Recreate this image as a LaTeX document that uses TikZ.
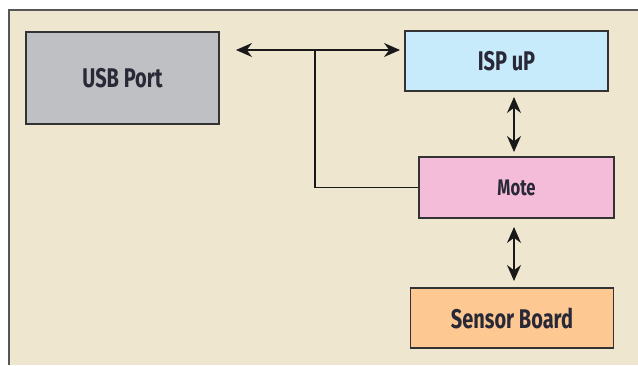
\documentclass[tikz,border=0pt]{standalone}
\usepackage{fontspec}
\setmainfont{Fira Sans}[FakeStretch=0.74]
\usetikzlibrary{arrows.meta}
\definecolor{bgbeige}{RGB}{239,230,208}
\definecolor{framegray}{RGB}{85,85,90}
\definecolor{usbgray}{RGB}{190,192,196}
\definecolor{ispblue}{RGB}{200,235,251}
\definecolor{motepink}{RGB}{245,188,218}
\definecolor{sensororange}{RGB}{253,200,145}
\definecolor{txt}{RGB}{40,40,55}
\tikzset{
  blk/.style={draw=black!80, line width=1.8pt, inner sep=0pt, text=txt, font=\bfseries\fontsize{27}{30}\selectfont},
  arr/.style={line width=1.5pt, black!90, {Stealth[length=16pt,width=14pt]}-{Stealth[length=16pt,width=14pt]}},
  wire/.style={line width=1.5pt, black!90}
}
\begin{document}
\begin{tikzpicture}[x=1pt,y=-1pt]
\useasboundingbox (0,0) rectangle (638,365);
\fill[white] (0,0) rectangle (638,365);
\fill[bgbeige] (9,10) rectangle (638,365);
\draw[framegray, line width=2.2pt] (9,365) -- (9,10) -- (638,10);
\node[blk, fill=usbgray, minimum width=193pt, minimum height=92pt] (usb) at (122.5,78) {USB Port};
\node[blk, fill=ispblue, minimum width=203pt, minimum height=60pt] (isp) at (506.5,61) {ISP uP};
\node[blk, fill=motepink, minimum width=195pt, minimum height=61pt, font=\bfseries\fontsize{22.5}{25}\selectfont] (mote) at (516.5,187.5) {Mote};
\node[blk, fill=sensororange, minimum width=203pt, minimum height=60pt] (sensor) at (512,318) {Sensor Board};
\coordinate (hl) at (236,50);
\coordinate (hr) at (400,50);
\coordinate (j) at (315,50);
\coordinate (a1) at (514,97);
\coordinate (a2) at (514,152);
\coordinate (b1) at (514,227);
\coordinate (b2) at (514,281);
\draw[arr] (hl) -- (hr);
\draw[wire] (j) -- (j |- mote.west) -- (mote.west);
\draw[arr] (a1) -- (a2);
\draw[arr] (b1) -- (b2);
\end{tikzpicture}
\end{document}
